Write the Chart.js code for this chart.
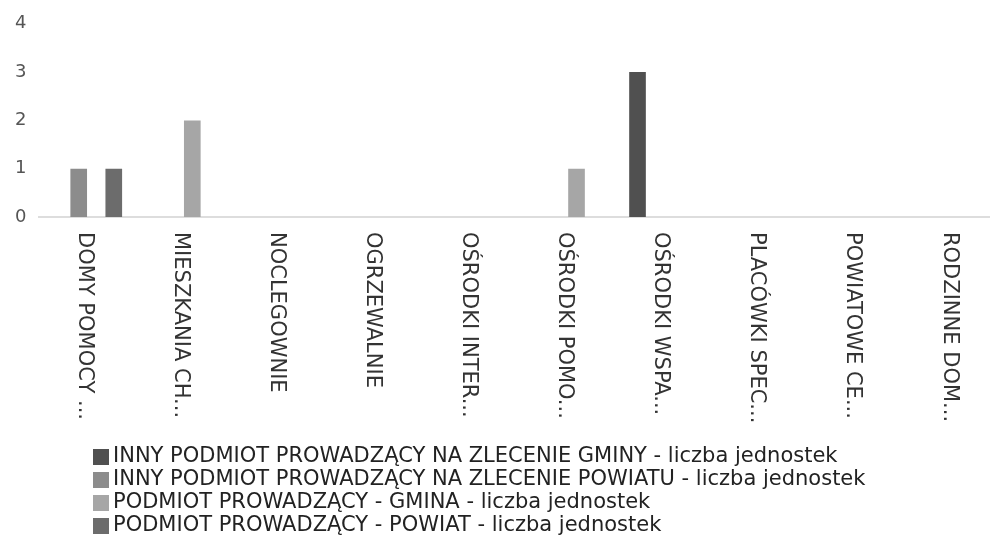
<!DOCTYPE html>
<html>
<head>
<meta charset="utf-8">
<title>Liczba jednostek</title>
<script src="https://cdn.jsdelivr.net/npm/chart.js@4"></script>
<style>
    html, body { margin: 0; padding: 0; background: #fff; overflow: hidden; }
    #wrap { width: 1000px; height: 540px; }
</style>
</head>
<body>
<div id="wrap"><canvas id="chart" width="1000" height="540"></canvas></div>
<script>
// Categories (already shortened like in the report)
const categories = [
    'DOMY POMOCY ...', 'MIESZKANIA CH...', 'NOCLEGOWNIE', 'OGRZEWALNIE',
    'OŚRODKI INTER...', 'OŚRODKI POMO...', 'OŚRODKI WSPA...', 'PLACÓWKI SPEC...',
    'POWIATOWE CE...', 'RODZINNE DOM...'
];

// Series values - liczba jednostek
const innyGminy = [0, 0, 0, 0, 0, 0, 3, 0, 0, 0];
const innyPowiatu = [1, 0, 0, 0, 0, 0, 0, 0, 0, 0];
const podmiotGmina = [0, 2, 0, 0, 0, 1, 0, 0, 0, 0];
const podmiotPowiat = [1, 0, 0, 0, 0, 0, 0, 0, 0, 0];

const seriesNames = [
    'INNY PODMIOT PROWADZĄCY NA ZLECENIE GMINY - liczba jednostek',
    'INNY PODMIOT PROWADZĄCY NA ZLECENIE POWIATU - liczba jednostek',
    'PODMIOT PROWADZĄCY - GMINA - liczba jednostek',
    'PODMIOT PROWADZĄCY - POWIAT - liczba jednostek'
];
const seriesColors = ['#505050', '#8c8c8c', '#a6a6a6', '#6c6c6c'];

// Y axis ticks
const yTicks = [0, 1, 2, 3, 4];

const FONT = '"DejaVu Sans", "Liberation Sans", sans-serif';

// Draws the x labels top-to-bottom and the legend list below them
const customText = {
    id: 'customText',
    afterDraw(chart) {
        const ctx = chart.ctx;
        const xScale = chart.scales.x;

        ctx.save();
        ctx.fillStyle = '#333';
        ctx.font = '21px ' + FONT;
        ctx.textAlign = 'left';
        ctx.textBaseline = 'middle';
        chart.data.labels.forEach((label, i) => {
            const x = xScale.getPixelForValue(i) - 3;
            ctx.save();
            ctx.translate(x, 232);
            ctx.rotate(Math.PI / 2);
            ctx.fillText(label, 0, 0);
            ctx.restore();
        });
        ctx.restore();

        // Legend
        ctx.save();
        ctx.font = '21px ' + FONT;
        ctx.textAlign = 'left';
        ctx.textBaseline = 'middle';
        chart.data.datasets.forEach((ds, i) => {
            const y = 457 + i * 23;
            ctx.fillStyle = ds.backgroundColor;
            ctx.fillRect(93, y - 8, 16, 16);
            ctx.fillStyle = '#222';
            ctx.fillText(ds.label, 113, y);
        });
        ctx.restore();
    }
};

const ctx = document.getElementById('chart').getContext('2d');
new Chart(ctx, {
    type: 'bar',
    data: {
        labels: categories,
        datasets: [
            { label: seriesNames[0], data: innyGminy, backgroundColor: seriesColors[0] },
            { label: seriesNames[1], data: innyPowiatu, backgroundColor: seriesColors[1] },
            { label: seriesNames[2], data: podmiotGmina, backgroundColor: seriesColors[2] },
            { label: seriesNames[3], data: podmiotPowiat, backgroundColor: seriesColors[3] }
        ]
    },
    options: {
        responsive: false,
        animation: false,
        categoryPercentage: 0.73,
        barPercentage: 0.95,
        layout: {
            padding: { top: 22, left: 2, right: 0, bottom: 323 }
        },
        plugins: {
            legend: { display: false },
            tooltip: { enabled: false }
        },
        scales: {
            x: {
                grid: { display: false, drawTicks: false },
                border: { display: true, color: '#dddddd', width: 2 },
                ticks: { display: false }
            },
            y: {
                min: 0,
                max: 4,
                afterBuildTicks(scale) {
                    scale.ticks = yTicks.map(v => ({ value: v }));
                },
                grid: { display: false, drawTicks: false },
                border: { display: false },
                ticks: {
                    padding: 13,
                    color: '#555',
                    font: { family: FONT, size: 18 }
                }
            }
        }
    },
    plugins: [customText]
});
</script>
</body>
</html>
